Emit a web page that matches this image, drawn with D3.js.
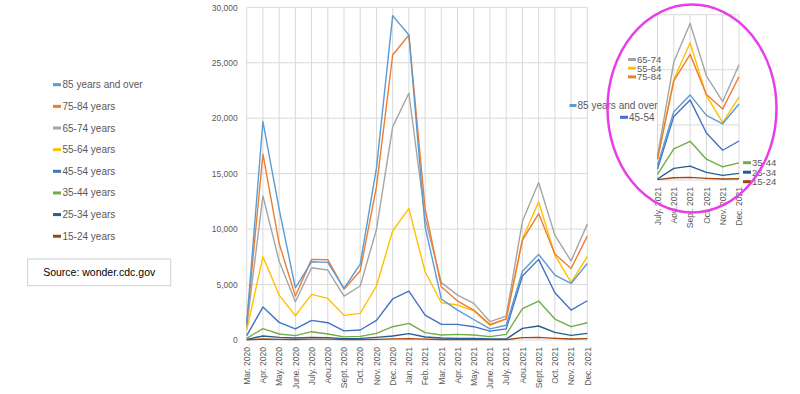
<!DOCTYPE html>
<html><head><meta charset="utf-8">
<script src="https://cdn.jsdelivr.net/npm/d3@7"></script>
<style>body{margin:0;background:#fff;} svg{display:block;}</style>
</head><body>
<svg id="c" width="800" height="394"></svg>
<script>
const months = ["Mar. 2020","Apr. 2020","May. 2020","June. 2020","July. 2020","Aou.2020","Sept. 2020","Oct. 2020","Nov. 2020","Dec. 2020","Jan. 2021","Feb. 2021","Mar. 2021","Apr. 2021","May. 2021","June. 2021","July. 2021","Aou.2021","Sept. 2021","Oct. 2021","Nov. 2021","Dec. 2021"];
const yTicks = [0,5000,10000,15000,20000,25000,30000];
const insetTicks = [0,5000,10000,15000];

const s85 = [1500,19700,11800,4700,7050,7000,4650,6850,15500,29250,27500,10200,3700,2700,1850,1000,1330,6200,7720,5860,5100,6900];
const s75 = [1400,16750,8700,3960,7270,7240,4580,6250,13800,25700,27500,11850,4800,3510,2700,1400,1900,9000,11400,7750,6450,9370];
const s65 = [1200,13000,7100,3450,6520,6310,3960,4870,9970,19220,22250,11000,5170,4050,3300,1650,2160,10700,14200,9460,7120,10450];
const s55 = [900,7500,4050,2190,4110,3750,2220,2400,4870,9850,11850,6150,3360,3150,2640,1320,1900,9100,12460,7660,5200,7510];
const s45 = [400,2970,1590,1000,1770,1560,820,900,1770,3700,4410,2250,1410,1410,1200,800,1000,5770,7270,4260,2700,3540];
const s35 = [150,1020,540,390,750,540,280,330,600,1200,1500,660,450,510,450,300,510,2830,3510,1890,1200,1560];
const s25 = [60,360,240,180,240,210,120,150,240,360,570,270,180,150,150,90,90,1050,1260,690,420,600];
const s15 = [15,90,60,40,80,80,40,40,60,100,120,80,50,50,50,30,30,210,240,150,90,120];

const seriesNames = ["85 years and over","75-84 years","65-74 years","55-64 years","45-54 years","35-44 years","25-34 years","15-24 years"];
const seriesValues = [s85,s75,s65,s55,s45,s35,s25,s15];
const colors = ["#5B9BD5","#ED7D31","#A5A5A5","#FFC000","#4472C4","#70AD47","#255E91","#9E480E"];
const insetStart = 16;
const insetLegendTop = [["65-74",2],["55-64",3],["75-84",1]];
const insetLegendBottom = [["35-44",5],["25-34",6],["15-24",7]];
const sourceText = "Source: wonder.cdc.gov";

const svg = d3.select("#c");
const FONT = "Liberation Sans, Arial, sans-serif";
const txt = "#595959";
const grid = "#d9d9d9";

// ---- main chart
const x = d3.scalePoint().domain(months).range([246.7, 587.3]);
const y = d3.scaleLinear().domain([0,30000]).range([340, 7.3]);

const g = svg.append("g");
g.selectAll("line.vg").data(months).join("line")
  .attr("x1",d=>x(d)).attr("x2",d=>x(d)).attr("y1",y(30000)).attr("y2",y(0))
  .attr("stroke",grid).attr("stroke-width",1);
g.selectAll("line.hg").data(yTicks).join("line")
  .attr("x1",x(months[0])).attr("x2",x(months[months.length-1]))
  .attr("y1",d=>y(d)).attr("y2",d=>y(d)).attr("stroke",grid).attr("stroke-width",1);

const yAx = g.append("g").attr("transform",`translate(${x(months[0])},0)`)
  .call(d3.axisLeft(y).tickValues(yTicks).tickSize(0).tickPadding(9).tickFormat(d3.format(",")));
yAx.select(".domain").remove();
yAx.selectAll("text").attr("fill",txt).style("font-family",FONT).style("font-size","8.5px");

const xAx = g.append("g").attr("transform",`translate(0,${y(0)})`)
  .call(d3.axisBottom(x).tickSize(0).tickPadding(0));
xAx.select(".domain").remove();
xAx.selectAll("text").attr("fill",txt).style("font-family",FONT).style("font-size","8.5px")
  .attr("text-anchor","end").attr("transform","translate(0,7) rotate(-90)").attr("dy","0.32em").attr("y",0).attr("x",0);

const line = d3.line().x((d,i)=>x(months[i])).y(d=>y(d));
for (let k=seriesValues.length-1;k>=0;k--){
  g.append("path").datum(seriesValues[k]).attr("d",line).attr("fill","none")
    .attr("stroke",colors[k]).attr("stroke-width",1.4).attr("stroke-linejoin","round");
}

// ---- left legend
const leg = svg.append("g");
seriesNames.forEach((n,i)=>{
  const yy = 84.7 + i*21.65;
  leg.append("rect").attr("x",53).attr("y",yy-1.5).attr("width",8).attr("height",3).attr("fill",colors[i]);
  leg.append("text").attr("x",62.5).attr("y",yy).attr("dy","0.35em").attr("fill",txt)
    .style("font-family",FONT).style("font-size","10px").text(n);
});
// source box
svg.append("rect").attr("x",27.7).attr("y",259).attr("width",143).attr("height",26.7)
  .attr("fill","#fff").attr("stroke","#d0d0d0").attr("stroke-width",1);
svg.append("text").attr("x",99.2).attr("y",272.3).attr("dy","0.35em").attr("text-anchor","middle")
  .attr("fill","#000").style("font-family",FONT).style("font-size","10.5px").text(sourceText);

// ---- inset
const im = months.slice(insetStart);
const xi = d3.scalePoint().domain(im).range([657.5, 739]);
const yi = d3.scaleLinear().domain([0,15000]).range([180, 14.7]);
const gi = svg.append("g");
gi.selectAll("line.vg").data(im).join("line")
  .attr("x1",d=>xi(d)).attr("x2",d=>xi(d)).attr("y1",yi(15000)).attr("y2",yi(0))
  .attr("stroke",grid).attr("stroke-width",1);
gi.selectAll("line.hg").data(insetTicks).join("line")
  .attr("x1",xi(im[0])).attr("x2",xi(im[im.length-1]))
  .attr("y1",d=>yi(d)).attr("y2",d=>yi(d)).attr("stroke",grid).attr("stroke-width",1);
const xiAx = gi.append("g").attr("transform",`translate(0,${yi(0)})`)
  .call(d3.axisBottom(xi).tickSize(0).tickPadding(0));
xiAx.select(".domain").remove();
xiAx.selectAll("text").attr("fill",txt).style("font-family",FONT).style("font-size","8.5px")
  .attr("text-anchor","end").attr("transform","translate(0,7) rotate(-90)").attr("dy","0.32em").attr("y",0).attr("x",0);
const linei = d3.line().x((d,i)=>xi(im[i])).y(d=>yi(d));
for (let k=seriesValues.length-1;k>=0;k--){
  gi.append("path").datum(seriesValues[k].slice(insetStart)).attr("d",linei).attr("fill","none")
    .attr("stroke",colors[k]).attr("stroke-width",1.4).attr("stroke-linejoin","round");
}
function legItem(xm, yy, c, label, fs){
  svg.append("rect").attr("x",xm).attr("y",yy-1.5).attr("width",8).attr("height",3).attr("fill",c);
  svg.append("text").attr("x",xm+9).attr("y",yy).attr("dy","0.35em").attr("fill",txt)
    .style("font-family",FONT).style("font-size",fs||"10px").text(label);
}
insetLegendTop.forEach((d,i)=>legItem(628, 59.5+i*8.7, colors[d[1]], d[0], "9.5px"));
insetLegendBottom.forEach((d,i)=>legItem(743, 162.7+i*9.5, colors[d[1]], d[0], "9.5px"));
svg.append("rect").attr("x",569.5).attr("y",105.5-1.5).attr("width",7).attr("height",3).attr("fill",colors[0]);
svg.append("text").attr("x",577.5).attr("y",105.5).attr("dy","0.35em").attr("fill",txt)
  .style("font-family",FONT).style("font-size","10px").text(seriesNames[0]);
legItem(620, 117.3, colors[4], "45-54");

svg.append("ellipse").attr("cx",692).attr("cy",108.5).attr("rx",84.5).attr("ry",104)
  .attr("fill","none").attr("stroke","#E83EE8").attr("stroke-width",2.5);
</script>
</body></html>
